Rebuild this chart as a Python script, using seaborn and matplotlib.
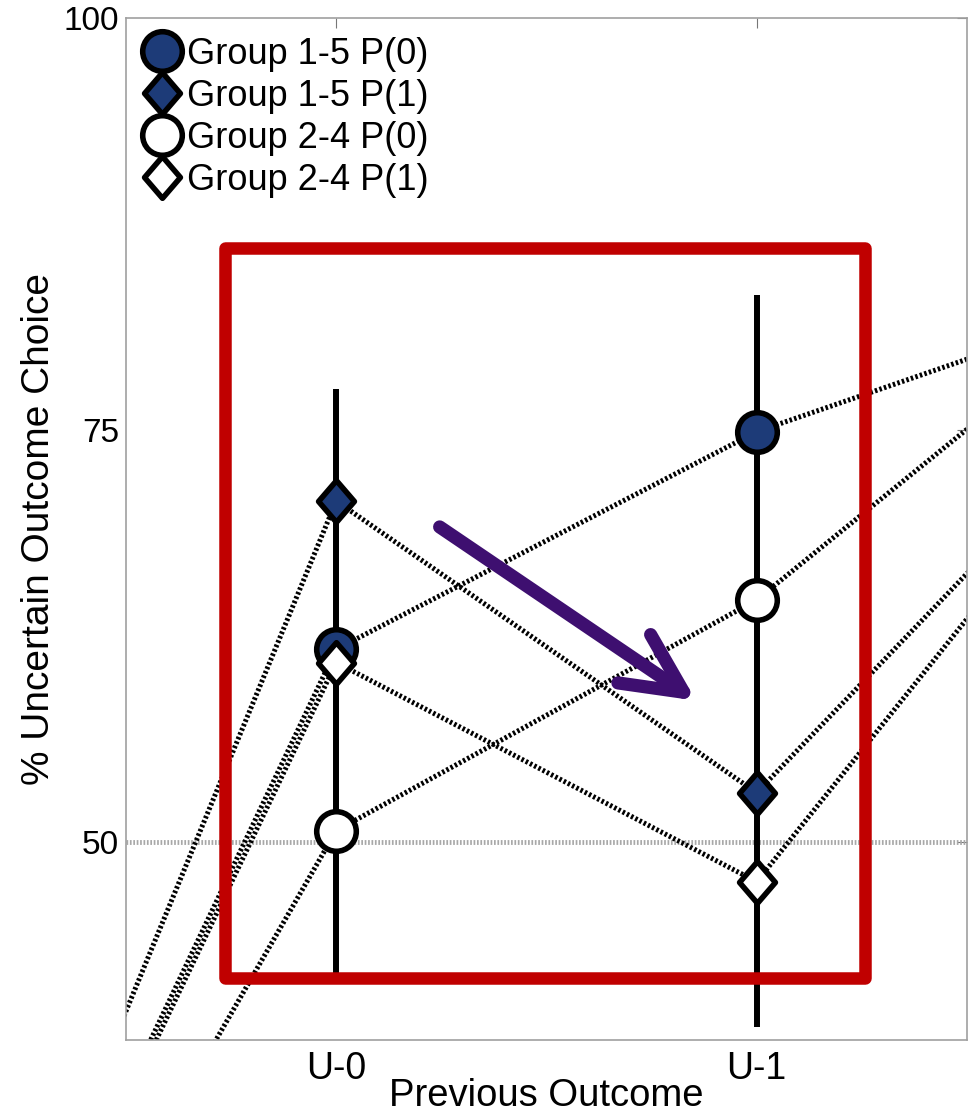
import matplotlib
matplotlib.use('Agg')
import matplotlib.pyplot as plt
import seaborn as sns
import pandas as pd
from matplotlib.path import Path
from matplotlib.lines import Line2D
from matplotlib.patches import Rectangle

# previous-outcome positions; only U-0 (0) and U-1 (1) are inside the view,
# the neighbouring conditions are off-screen so their lines get clipped
outcome_pos = [-1, 0, 1, 2]
tick_pos = [0, 1]
tick_labels = ['U-0', 'U-1']
y_ticks = [50, 75, 100]

series_names = ['Group 1-5 P(0)', 'Group 1-5 P(1)', 'Group 2-4 P(0)', 'Group 2-4 P(1)']
g15_p0 = [8.0, 61.7, 74.9, 83.7]
g15_p1 = [8.8, 70.7, 53.0, 79.6]
g24_p0 = [6.3, 50.7, 64.7, 85.4]
g24_p1 = [7.4, 60.9, 47.6, 79.5]

# error bars drawn at U-0 and U-1
err_pos = [0, 1]
err_low = [41.9, 38.8]
err_high = [77.5, 83.2]

chance_level = 50

df = pd.DataFrame({
    'outcome': outcome_pos * 4,
    'pct': g15_p0 + g15_p1 + g24_p0 + g24_p1,
    'series': [n for n in series_names for _ in outcome_pos],
})

sns.set_style('white')
plt.rcParams['font.family'] = ['Liberation Sans', 'DejaVu Sans']
plt.rcParams['text.color'] = 'black'
plt.rcParams['axes.labelcolor'] = 'black'

navy = '#1d3b78'
diamond = Path([(0, 1), (0.86, 0), (0, -1), (-0.86, 0), (0, 1)],
               [Path.MOVETO, Path.LINETO, Path.LINETO, Path.LINETO, Path.CLOSEPOLY])
mew = 4
styles = {
    'Group 1-5 P(0)': dict(marker='o', markersize=28.5, markerfacecolor=navy),
    'Group 1-5 P(1)': dict(marker=diamond, markersize=30, markerfacecolor=navy),
    'Group 2-4 P(0)': dict(marker='o', markersize=28.5, markerfacecolor='white'),
    'Group 2-4 P(1)': dict(marker=diamond, markersize=30, markerfacecolor='white'),
}

fig = plt.figure(figsize=(9.69, 11.16), dpi=100)
ax = fig.add_axes([0.130, 0.0681, 0.8679, 0.9158])

ax.axhline(chance_level, color='#a8a8a8', lw=3.5, linestyle=(0, (0.35, 0.35)), zorder=1)
ax.vlines(err_pos, err_low, err_high, color='black', lw=4.3, zorder=1.8)

for name in series_names:
    sns.lineplot(data=df[df['series'] == name], x='outcome', y='pct', ax=ax,
                 color='black', lw=3.6, linestyle=(0, (0.5, 0.45)),
                 markeredgecolor='black', markeredgewidth=mew,
                 sort=False, legend=False, **styles[name])

ax.set_xlim(-0.5, 1.5)
ax.set_ylim(38, 100)
ax.set_xticks(tick_pos)
ax.set_xticklabels(tick_labels)
ax.set_yticks(y_ticks)
ax.tick_params(direction='in', length=7, width=0.8, color='#777777',
               top=True, right=True, labelsize=24, pad=5, labelcolor='black')
ax.tick_params(axis='x', labelsize=27, pad=8)
for sp in ax.spines.values():
    sp.set_visible(True)
    sp.set_color('#a0a0a0')
    sp.set_linewidth(1.2)

ax.set_xlabel('Previous Outcome', fontsize=27.5)
ax.set_ylabel('% Uncertain Outcome Choice', fontsize=28)
ax.xaxis.set_label_coords(0.5, -0.037)
ax.yaxis.set_label_coords(-0.082, 0.5)

handles = [Line2D([], [], linestyle='None', markeredgecolor='black',
                  markeredgewidth=mew, **styles[n]) for n in series_names]
ax.legend(handles, series_names, loc='upper left', frameon=False, fontsize=26,
          labelspacing=0.19, handlelength=0.94, handletextpad=0.22,
          borderaxespad=0.37, borderpad=0.16, numpoints=1)

# highlight box and trend arrow
ax.add_patch(Rectangle((0.1177, 0.0607), 0.761, 0.7143, transform=ax.transAxes,
                       fill=False, ec='#c00000', lw=9, joinstyle='round', zorder=5))
ax.annotate('', xy=(0.678, 0.332), xytext=(0.373, 0.502), xycoords='axes fraction',
            arrowprops=dict(arrowstyle='->,head_length=2.15,head_width=1.05',
                            lw=9.5, color='#3e0f70', mutation_scale=20,
                            shrinkA=0, shrinkB=0, capstyle='round'),
            zorder=6)

fig.savefig('out.png', dpi=100)
